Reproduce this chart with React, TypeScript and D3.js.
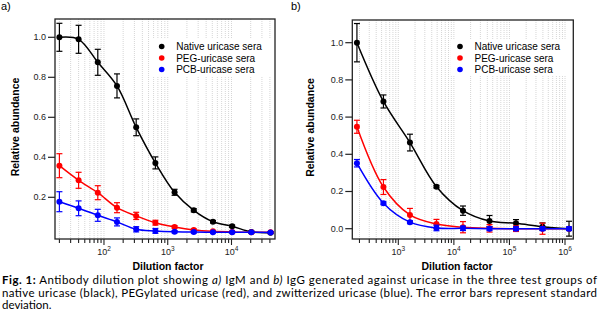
import React from "react";
import * as d3 from "d3";

const dilA = [20, 40, 80, 160, 320, 640, 1280, 2560, 5120, 10240, 20480, 40960];
const nativeA = [1.0, 0.99, 0.875, 0.757, 0.55, 0.372, 0.225, 0.135, 0.078, 0.055, 0.027, 0.023];
const nativeAErr = [0.07, 0.07, 0.065, 0.06, 0.042, 0.03, 0.015, 0.008, 0.006, 0.006, 0.005, 0.005];
const pegA = [0.358, 0.285, 0.223, 0.148, 0.107, 0.073, 0.052, 0.037, 0.03, 0.027, 0.025, 0.025];
const pegAErr = [0.06, 0.04, 0.035, 0.025, 0.018, 0.012, 0.006, 0.005, 0.004, 0.004, 0.004, 0.004];
const pcbA = [0.178, 0.145, 0.11, 0.077, 0.04, 0.032, 0.028, 0.026, 0.025, 0.025, 0.025, 0.024];
const pcbAErr = [0.05, 0.037, 0.03, 0.02, 0.013, 0.012, 0.006, 0.005, 0.004, 0.004, 0.004, 0.004];

const dilB = [180, 540, 1620, 4860, 14580, 43740, 131220, 393660, 1180980];
const nativeB = [1.0, 0.684, 0.463, 0.226, 0.097, 0.041, 0.029, 0.011, 0.0];
const nativeBErr = [0.103, 0.035, 0.045, 0.007, 0.025, 0.03, 0.02, 0.02, 0.04];
const pegB = [0.548, 0.224, 0.074, 0.025, 0.008, 0.002, 0.0, 0.0, 0.0];
const pegBErr = [0.035, 0.04, 0.035, 0.025, 0.03, 0.02, 0.015, 0.03, 0.0];
const pcbB = [0.352, 0.137, 0.035, 0.004, 0.002, 0.0, 0.0, 0.0, 0.0];
const pcbBErr = [0.02, 0.008, 0.008, 0.015, 0.012, 0.01, 0.01, 0.01, 0.01];

const seriesNames = ["Native uricase sera", "PEG-uricase sera", "PCB-uricase sera"];
const seriesColors = ["#000000", "#ff0000", "#0000ff"];
const yTicksA = [0.2, 0.4, 0.6, 0.8, 1.0];
const yTicksB = [0.0, 0.2, 0.4, 0.6, 0.8, 1.0];
const xLabel = "Dilution factor";
const yLabel = "Relative abundance";

const AX = "'Liberation Sans', Arial, sans-serif";

type Panel = {
  label: string;
  labelX: number;
  x: d3.ScaleLogarithmic<number, number>;
  y: d3.ScaleLinear<number, number>;
  dil: number[];
  vals: number[][];
  errs: number[][];
  yTicks: number[];
  legX: number;
  legBox: [number, number, number, number];
  yTitleX: number;
  xTitleX: number;
};

function PanelView({ p }: { p: Panel }) {
  const [x0, x1] = p.x.range();
  const [yb, yt] = p.y.range();
  const allTicks = p.x.ticks(20).filter((t) => t >= p.x.domain()[0] && t <= p.x.domain()[1]);
  const majors = allTicks.filter((t) => Math.abs(Math.log10(t) - Math.round(Math.log10(t))) < 1e-9);
  const line = d3
    .line<[number, number]>()
    .x((d) => p.x(d[0]))
    .y((d) => p.y(d[1]))
    .curve(d3.curveCatmullRom.alpha(0.5));
  const [lbx, lby, lbw, lbh] = p.legBox;
  return (
    <g>
      <text x={p.labelX} y={10} fontFamily={AX} fontSize={11}>{p.label}</text>
      {allTicks.map((t, i) => (
        <line key={"g" + i} x1={p.x(t)} x2={p.x(t)} y1={yt} y2={yb} stroke="#d6d6d6" strokeWidth={1} strokeDasharray="1 1" />
      ))}
      <rect x={lbx} y={lby} width={lbw} height={lbh} fill="#fff" />
      {p.vals.map((vs, si) => (
        <g key={"s" + si}>
          <path d={line(p.dil.map((d, i) => [d, vs[i]] as [number, number])) || ""} fill="none" stroke={seriesColors[si]} strokeWidth={1.5} />
          {p.dil.map((d, i) => {
            const e = p.errs[si][i];
            const cx = p.x(d);
            const ya = p.y(vs[i] + e);
            const yb2 = p.y(vs[i] - e);
            return (
              <g key={i} stroke={seriesColors[si]} strokeWidth={1.2}>
                {e > 0 && (
                  <>
                    <line x1={cx} x2={cx} y1={ya} y2={yb2} />
                    <line x1={cx - 3} x2={cx + 3} y1={ya} y2={ya} />
                    <line x1={cx - 3} x2={cx + 3} y1={yb2} y2={yb2} />
                  </>
                )}
                <circle cx={cx} cy={p.y(vs[i])} r={3} fill={seriesColors[si]} stroke="none" />
              </g>
            );
          })}
        </g>
      ))}
      <rect x={x0} y={yt} width={x1 - x0} height={yb - yt} fill="none" stroke="#222" strokeWidth={1.3} />
      {p.yTicks.map((t, i) => (
        <g key={"y" + i}>
          <line x1={x0 - 7} x2={x0} y1={p.y(t)} y2={p.y(t)} stroke="#222" strokeWidth={1.2} />
          <text x={x0 - 9} y={p.y(t) + 3} textAnchor="end" fontFamily={AX} fontSize={9} fill="#222">{t.toFixed(1)}</text>
        </g>
      ))}
      {allTicks.map((t, i) => {
        const major = majors.includes(t);
        return (
          <line key={"xt" + i} x1={p.x(t)} x2={p.x(t)} y1={yb} y2={yb + (major ? 6 : 4)} stroke="#222" strokeWidth={1.1} />
        );
      })}
      {majors.map((t, i) => (
        <text key={"xl" + i} x={p.x(t)} y={255} textAnchor="middle" fontFamily={AX} fontSize={9} fill="#222">
          10<tspan dy={-4} fontSize={6.5}>{Math.round(Math.log10(t))}</tspan>
        </text>
      ))}
      <text x={p.xTitleX} y={269.5} textAnchor="middle" fontFamily={AX} fontWeight="bold" fontSize={10.5}>{xLabel}</text>
      <text transform={`translate(${p.yTitleX},${(yt + yb) / 2 - 2}) rotate(-90)`} textAnchor="middle" fontFamily={AX} fontWeight="bold" fontSize={10.5}>{yLabel}</text>
      {seriesNames.map((n, i) => (
        <g key={"lg" + i}>
          <circle cx={p.legX} cy={46.5 + i * 11.5} r={2.8} fill={seriesColors[i]} />
          <text x={p.legX + 14.5} y={50 + i * 11.5} fontFamily={AX} fontSize={10}>{n}</text>
        </g>
      ))}
    </g>
  );
}

export default function App() {
  const panelA: Panel = {
    label: "a)",
    labelX: 1,
    x: d3.scaleLog().domain([17.06, 48100]).range([55, 275]),
    y: d3.scaleLinear().domain([-0.0085, 1.0915]).range([239, 19]),
    dil: dilA,
    vals: [nativeA, pegA, pcbA],
    errs: [nativeAErr, pegAErr, pcbAErr],
    yTicks: yTicksA,
    legX: 161.7,
    legBox: [153, 39, 118, 37],
    yTitleX: 19,
    xTitleX: 168,
  };
  const panelB: Panel = {
    label: "b)",
    labelX: 291,
    x: d3.scaleLog().domain([148.6, 1.41e6]).range([352.3, 573.3]),
    y: d3.scaleLinear().domain([-0.0554, 1.122]).range([239, 20]),
    dil: dilB,
    vals: [nativeB, pegB, pcbB],
    errs: [nativeBErr, pegBErr, pcbBErr],
    yTicks: yTicksB,
    legX: 460,
    legBox: [451, 39, 118, 37],
    yTitleX: 314,
    xTitleX: 457,
  };
  const CAP = "Lato, 'Open Sans', sans-serif";
  return (
    <svg width={600} height={318} style={{ position: "absolute", left: 0, top: 0, background: "#fff" }}>
      <rect width={600} height={318} fill="#fff" />
      <PanelView p={panelA} />
      <PanelView p={panelB} />
      <text x={2} y={284} fontFamily={CAP} fontSize={11.5} textLength={595} lengthAdjust="spacing">
        <tspan fontWeight="bold">Fig. 1:</tspan> Antibody dilution plot showing <tspan fontStyle="italic">a)</tspan> IgM and <tspan fontStyle="italic">b)</tspan> IgG generated against uricase in the three test groups of
      </text>
      <text x={2} y={296.5} fontFamily={CAP} fontSize={11.5} textLength={595} lengthAdjust="spacing">
        native uricase (black), PEGylated uricase (red), and zwitterized uricase (blue). The error bars represent standard
      </text>
      <text x={2} y={309} fontFamily={CAP} fontSize={11.5}>deviation.</text>
    </svg>
  );
}
